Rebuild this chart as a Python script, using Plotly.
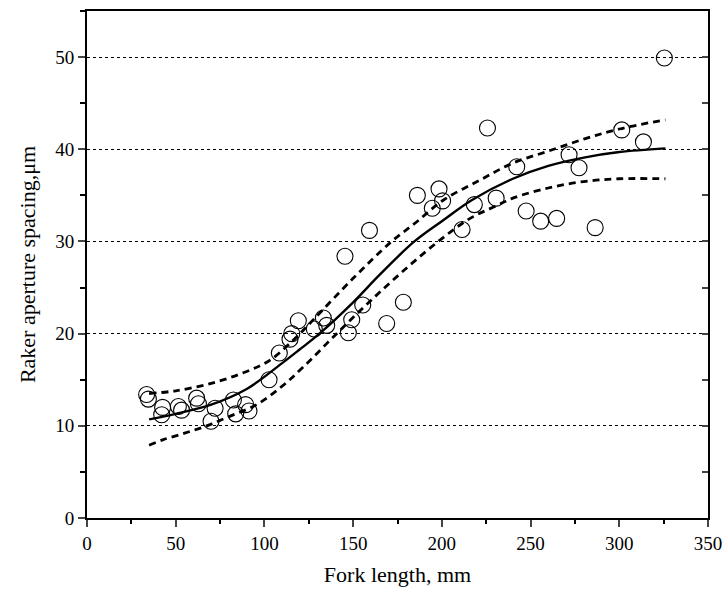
import plotly.graph_objects as go

# Observed points (fork length mm, raker aperture spacing um)
fork_len = [33.6, 34.6, 42.6, 42.1, 51.5, 53.3, 61.8, 62.8, 72.2, 69.9, 82.5, 83.8,
            89.4, 91.3, 102.6, 108.4, 115.4, 114.4, 119.1, 128.1, 133.2, 135.1, 145.4,
            147.3, 149.2, 155.4, 159.2, 168.9, 178.3, 186.2, 194.6, 198.4, 200.4, 211.4,
            218.3, 225.7, 230.6, 242.2, 247.5, 255.7, 264.7, 271.7, 277.3, 286.4, 301.4,
            313.6, 325.4]
spacing = [13.4, 12.9, 12.0, 11.2, 12.1, 11.7, 13.0, 12.4, 11.9, 10.5, 12.8, 11.3,
           12.3, 11.6, 15.0, 17.9, 20.0, 19.4, 21.4, 20.5, 21.7, 20.9, 28.4,
           20.1, 21.5, 23.1, 31.2, 21.1, 23.4, 35.0, 33.6, 35.7, 34.4, 31.3,
           34.0, 42.3, 34.7, 38.1, 33.3, 32.2, 32.5, 39.4, 38.0, 31.5, 42.1,
           40.8, 49.9]

# Fitted curve
fit_x = [35, 50, 70, 90, 110, 120, 131, 150, 165, 184.5, 200, 217, 240, 260, 280, 300, 326]
fit_y = [10.7, 11.3, 12.3, 14.0, 16.8, 18.3, 20.0, 23.4, 26.4, 30.0, 32.2, 34.5, 36.8, 38.2, 39.1, 39.7, 40.1]

# Upper confidence band
up_x = [35, 50, 70, 90, 103, 120, 128, 150, 171.7, 185, 201, 221, 240, 260, 280, 300, 326]
up_y = [13.5, 13.8, 14.6, 15.9, 17.1, 20.0, 21.6, 26.0, 30.0, 32.0, 34.5, 36.6, 38.5, 39.8, 41.1, 42.2, 43.2]

# Lower confidence band
lo_x = [35, 43, 55, 67.5, 80, 95.6, 110, 122, 140.7, 160, 180, 198, 215, 231, 240, 260, 280, 300, 326]
lo_y = [7.9, 8.5, 9.2, 10.0, 11.0, 12.3, 14.3, 16.4, 20.0, 23.6, 27.1, 30.0, 32.4, 33.9, 34.7, 35.8, 36.5, 36.8, 36.8]

font_family = "Liberation Serif"
tick_font = dict(family=font_family, size=19, color="black")
title_font = dict(family=font_family, size=22, color="black")

fig = go.Figure()
fig.add_trace(go.Scatter(x=up_x, y=up_y, mode="lines", line=dict(color="black", width=2.8, dash="7px,5px", shape="spline"), showlegend=False))
fig.add_trace(go.Scatter(x=lo_x, y=lo_y, mode="lines", line=dict(color="black", width=2.8, dash="7px,5px", shape="spline"), showlegend=False))
fig.add_trace(go.Scatter(x=fit_x, y=fit_y, mode="lines", line=dict(color="black", width=2.4, shape="spline"), showlegend=False))
fig.add_trace(go.Scatter(x=fork_len, y=spacing, mode="markers",
                         marker=dict(symbol="circle-open", size=16, color="black", line=dict(width=1.1)),
                         showlegend=False))
# invisible trace for right axis
fig.add_trace(go.Scatter(x=[0], y=[0], yaxis="y2", mode="markers", marker=dict(opacity=0), showlegend=False, hoverinfo="skip"))

fig.update_layout(
    width=724, height=591,
    margin=dict(l=87, r=16, t=11, b=73),
    paper_bgcolor="white", plot_bgcolor="white",
    font=dict(family=font_family, color="black", size=19),
    xaxis=dict(range=[0, 350], dtick=50, tick0=0, ticks="outside", ticklen=7, tickwidth=1.5,
               showline=True, linewidth=2, linecolor="black", mirror=True, showgrid=False, zeroline=False,
               minor=dict(dtick=25, ticks="outside", ticklen=4, tickwidth=1.5, tickcolor="black"),
               title=dict(text="Fork length, mm", font=title_font, standoff=14),
               tickfont=tick_font, automargin=False),
    yaxis=dict(range=[0, 55], dtick=10, tick0=0, ticks="outside", ticklen=7, tickwidth=1.5,
               showline=True, linewidth=2, linecolor="black", mirror=True,
               showgrid=True, gridcolor="black", gridwidth=0.8, griddash="3px,3px", zeroline=False,
               minor=dict(dtick=5, ticks="outside", ticklen=5, tickwidth=1.5, tickcolor="black", showgrid=False),
               title=dict(text="Raker aperture spacing,μm", font=title_font, standoff=14),
               tickfont=tick_font, automargin=False),
    yaxis2=dict(range=[0, 55], overlaying="y", side="right", dtick=5, tick0=0, ticks="inside", ticklen=6, tickwidth=1.5,
                showticklabels=False, showgrid=False, zeroline=False, showline=False, automargin=False),
)

# remove the default page margin so the 724x591 figure fills the window exactly
fig.write_html("out.html", config={"displayModeBar": False},
               post_script="document.body.style.margin='0px'; document.body.style.overflow='hidden';")
